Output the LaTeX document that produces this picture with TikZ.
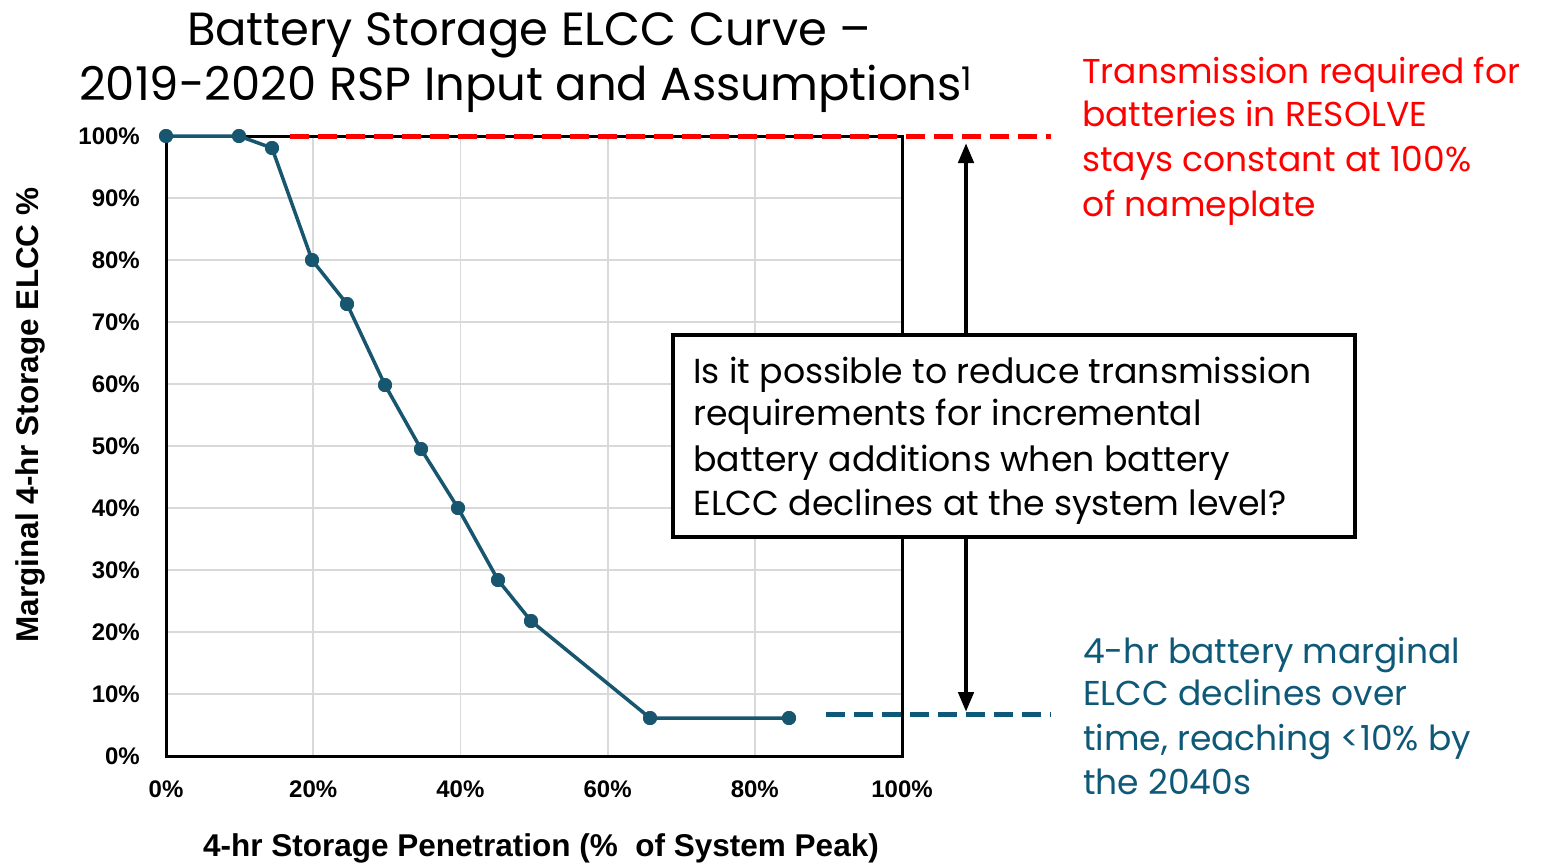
\documentclass[tikz,border=0pt]{standalone}
\usepackage{fontspec}
\setmainfont{Poppins}
\newfontfamily\arialfont{Liberation Sans}
\usetikzlibrary{arrows.meta}
\definecolor{curveblue}{HTML}{18566F}
\definecolor{noteblue}{HTML}{0E5878}
\definecolor{gridgray}{HTML}{D9D9D9}
\definecolor{notered}{HTML}{FF0000}
\tikzset{
  gridline/.style={gridgray, line width=1.8pt},
  frameline/.style={black, line width=3pt},
  curve/.style={curveblue, line width=3.5pt},
  dot/.style={circle, fill=curveblue, inner sep=0pt, minimum size=14pt},
  ticklab/.style={font=\arialfont\bfseries\fontsize{24}{28}\selectfont, inner sep=0pt},
  axistitle/.style={font=\arialfont\bfseries\fontsize{31.5}{36}\selectfont, inner sep=0pt},
  titletext/.style={font=\fontsize{46.5}{54}\selectfont, inner sep=0pt, anchor=base},
  redtext/.style={font=\fontsize{34.5}{44}\selectfont, text=notered, inner sep=0pt, anchor=base west},
  bluetext/.style={font=\fontsize{34.5}{44}\selectfont, text=noteblue, inner sep=0pt, anchor=base west},
  boxtext/.style={font=\fontsize{34.7}{44}\selectfont, inner sep=0pt, anchor=base west},
  reddash/.style={notered, line width=5pt, dash pattern=on 19pt off 9pt},
  bluedash/.style={noteblue, line width=5pt, dash pattern=on 19pt off 9pt},
  bigarrow/.style={black, line width=4.5pt, -{Triangle[length=20pt,width=15pt]}},
  qbox/.style={draw=black, line width=3.5pt, fill=white, minimum width=682pt, minimum height=202pt, inner sep=0pt}
}
\begin{document}
\begin{tikzpicture}[x=1pt,y=-1pt]
\useasboundingbox[fill=white] (0,0) rectangle (1542,865);
% grid
\foreach \i in {1,...,9} {\draw[gridline] (166,{756-62*\i}) -- (902,{756-62*\i});}
\foreach \i in {1,...,4} {\draw[gridline] ({166+147.2*\i},136) -- ({166+147.2*\i},756);}
% frame
\draw[frameline] (166,136) rectangle (902,756);
% y ticks
\foreach \i in {0,...,10} {\node[ticklab, anchor=east] (yt\i) at (140,{756-62*\i}) {\pgfmathparse{int(10*\i)}\pgfmathresult\%};}
% x ticks
\foreach \i in {0,...,5} {\node[ticklab] (xt\i) at ({166+147.2*\i},789) {\pgfmathparse{int(20*\i)}\pgfmathresult\%};}
% axis titles
\node[axistitle, rotate=90] (ytitle) at (30,415) {Marginal 4-hr Storage ELCC \%};
\node[axistitle] (xtitle) at (541,848) {4-hr Storage Penetration (\%\ \ of System Peak)};
% red dashed line
\coordinate (rd1) at (290,136);
\coordinate (rd2) at (1051,136);
\draw[reddash] (rd1) -- (rd2);
% blue dashed line
\coordinate (bd1) at (826,714);
\coordinate (bd2) at (1051,714);
\draw[bluedash] (bd1) -- (bd2);
% curve
\node[dot] (p1) at (166,136) {};
\node[dot] (p2) at (239,136) {};
\node[dot] (p3) at (272,148) {};
\node[dot] (p4) at (312,260) {};
\node[dot] (p5) at (347,304) {};
\node[dot] (p6) at (385,385) {};
\node[dot] (p7) at (421,449) {};
\node[dot] (p8) at (458,508) {};
\node[dot] (p9) at (498,580) {};
\node[dot] (p10) at (531,621) {};
\node[dot] (p11) at (650,718) {};
\node[dot] (p12) at (789,718) {};
\draw[curve] (p1.center) -- (p2.center) -- (p3.center) -- (p4.center) -- (p5.center) -- (p6.center) -- (p7.center) -- (p8.center) -- (p9.center) -- (p10.center) -- (p11.center) -- (p12.center);
\foreach \k in {1,...,12} {\fill[curveblue] (p\k) circle (7pt);}
% question box and arrows
\node[qbox] (q) at (1014,436) {};
\coordinate (atop) at (966,143);
\coordinate (abot) at (966,712);
\draw[bigarrow] (q.north -| atop) -- (atop);
\draw[bigarrow] (q.south -| abot) -- (abot);
\node[boxtext] (q1) at (693,383) {Is it possible to reduce transmission};
\node[boxtext] (q2) at (693,425) {requirements for incremental};
\node[boxtext] (q3) at (693,471) {battery additions when battery};
\node[boxtext] (q4) at (693,515) {ELCC declines at the system level?};
% title
\node[titletext] (t1) at (529,45) {Battery Storage ELCC Curve –};
\node[titletext] (t2) at (526,100) {2019-2020 RSP Input and Assumptions\textsuperscript{1}};
% red note
\node[redtext] (r1) at (1082,83) {Transmission required for};
\node[redtext] (r2) at (1082,126) {batteries in RESOLVE};
\node[redtext] (r3) at (1082,171) {stays constant at 100\%};
\node[redtext] (r4) at (1082,216) {of nameplate};
% blue note
\node[bluetext] (b1) at (1083,663) {4-hr battery marginal};
\node[bluetext] (b2) at (1083,705) {ELCC declines over};
\node[bluetext] (b3) at (1083,750) {time, reaching <10\% by};
\node[bluetext] (b4) at (1083,794) {the 2040s};
\end{tikzpicture}
\end{document}
